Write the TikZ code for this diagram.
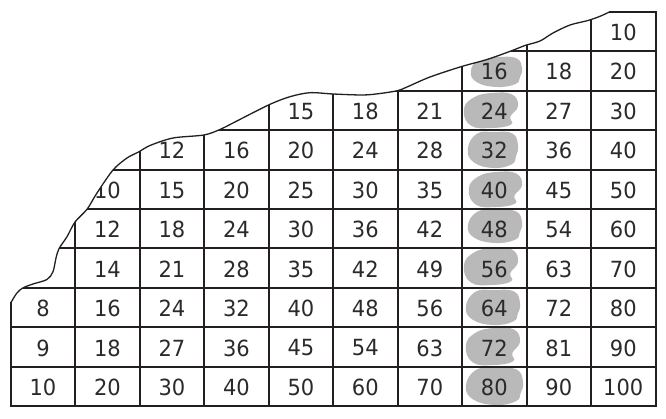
\documentclass[tikz,border=0pt]{standalone}
\usepackage{fontspec}
\setmainfont{DejaVu Sans}
\definecolor{linec}{HTML}{231F20}
\definecolor{textc}{HTML}{2A2A2A}
\definecolor{blobc}{HTML}{B9B9B9}
\tikzset{
  num/.style={inner sep=0pt, text=textc, font=\fontsize{21}{25}\selectfont, yscale=1.06},
  gridline/.style={draw=linec, line width=2pt},
  tearline/.style={draw=linec, line width=1.3pt, line join=round},
  edgeline/.style={draw=linec, line width=2pt, line cap=rect},
  blobfill/.style={fill=blobc}
}
\begin{document}
\begin{tikzpicture}[x=1pt,y=-1pt]
\useasboundingbox (0,0) rectangle (666,419);
\begin{scope}
  \clip (655.5,11.7) -- plot[smooth,tension=0.5] coordinates {(610,11.7) (600,16.3) (588,20.5) (570,25) (553,33) (540,41) (525,45.5) (511,51) (487,59.5) (461,66.7) (430,77) (407,87) (397.5,90.7) (380,93.5) (363,95) (333,94) (310,92.7) (290,96.7) (268.5,105) (233,123) (220,129.5) (204,135) (173,138) (150,145.5) (139.5,151.5) (127,158) (113,170) (97,193) (87,209.3) (75,222) (67,236.7) (59,248.7) (56,258) (53,271.7) (47,279.5) (33,284) (22.7,288) (16.7,293.3) (10.7,303)} -- (10.7,406.3) -- (655.5,406.3) -- cycle;
  % gray highlight blobs in the column of 8
  \foreach \cx/\cy/\w/\h/\a in {496/72/26/15/1, 490.5/110.5/27.5/17.5/-1, 492.5/150/25.5/18/1, 495/189.5/27/17.5/-1, 494.5/226.5/27.5/16.5/1, 490.5/266.5/27.5/18.5/-1, 492.5/307.5/27.5/17.5/1, 492.5/346.5/27.5/18.5/-1, 494/386.5/29/18.5/1} {
    \fill[blobfill] plot[smooth cycle, tension=0.75] coordinates {
      ({\cx-0.97*\w},{\cy-0.05*\h}) ({\cx-0.62*\w},{\cy-(0.82+0.08*\a)*\h}) ({\cx+0.05*\w},{\cy-\h})
      ({\cx+0.78*\w},{\cy-0.92*\h}) ({\cx+\w},{\cy-0.25*\h}) ({\cx+(0.82+0.1*\a)*\w},{\cy+0.35*\h})
      ({\cx+0.75*\w},{\cy+0.8*\h}) ({\cx+0.05*\w},{\cy+\h}) ({\cx-0.72*\w},{\cy+(0.78-0.08*\a)*\h})};
  }
  % grid lines
  \foreach \i in {1,...,9} {
    \draw[gridline] ({10.7+64.48*\i},0) -- ({10.7+64.48*\i},406.3);
    \draw[gridline] (0,{11.7+39.46*\i}) -- (666,{11.7+39.46*\i});
  }
  % numbers
  \foreach \r/\s in {1/10,2/8,3/5,4/3,5/2,6/2,7/2,8/1,9/1,10/1} {
    \foreach \c in {\s,...,10} {
      \pgfmathtruncatemacro\v{\r*\c}
      \node[num] (n-\r-\c) at ({10.7+64.48*(\c-0.5)},{11.7+39.46*(\r-0.5)+0.8}) {\v};
    }
  }
\end{scope}
% torn outline
\draw[tearline] plot[smooth,tension=0.5] coordinates {(610,11.7) (600,16.3) (588,20.5) (570,25) (553,33) (540,41) (525,45.5) (511,51) (487,59.5) (461,66.7) (430,77) (407,87) (397.5,90.7) (380,93.5) (363,95) (333,94) (310,92.7) (290,96.7) (268.5,105) (233,123) (220,129.5) (204,135) (173,138) (150,145.5) (139.5,151.5) (127,158) (113,170) (97,193) (87,209.3) (75,222) (67,236.7) (59,248.7) (56,258) (53,271.7) (47,279.5) (33,284) (22.7,288) (16.7,293.3) (10.7,303)};
\draw[edgeline] (10.7,303) -- (10.7,406.3) -- (655.5,406.3) -- (655.5,11.7) -- (610,11.7);
\end{tikzpicture}
\end{document}
